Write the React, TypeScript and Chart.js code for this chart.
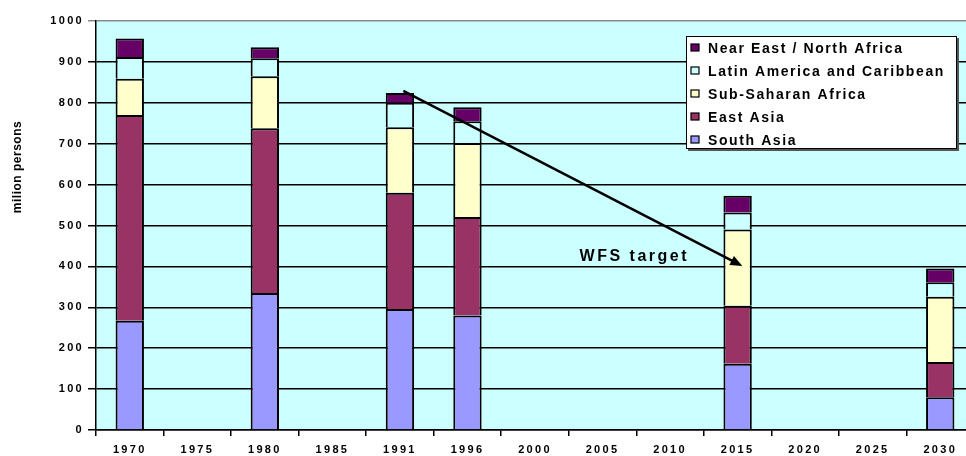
import React, { useEffect, useRef } from "react";
import { Chart, registerables } from "chart.js";

Chart.register(...registerables);

const years = ["1970", "1975", "1980", "1985", "1991", "1996", "2000", "2005", "2010", "2015", "2020", "2025", "2030"];
const southAsia = [267, null, 335, null, 296, 280, null, null, null, 162, null, null, 80];
const eastAsia = [503, null, 403, null, 284, 241, null, null, null, 142, null, null, 86];
const subSaharanAfrica = [89, null, 127, null, 160, 181, null, null, null, 186, null, null, 160];
const latinAmerica = [53, null, 44, null, 60, 53, null, null, null, 42, null, null, 35];
const nearEast = [45, null, 27, null, 24, 34, null, null, null, 41, null, null, 34];
const yTicks = [0, 100, 200, 300, 400, 500, 600, 700, 800, 900, 1000];
const arrowFrom = { x: 4.05, y: 829 };
const arrowTo = { x: 9.07, y: 401 };
const annotationText = "WFS target";
const annotationPos = { x: 7.47, y: 425 };
const yTitle = "milion persons";

const FONT = '"Liberation Sans", Arial, sans-serif';

const bgPlugin = {
  id: "bgPlugin",
  beforeDraw(chart: any) {
    const { ctx, chartArea, width, height } = chart;
    ctx.save();
    ctx.fillStyle = "#ffffff";
    ctx.fillRect(0, 0, width, height);
    ctx.fillStyle = "#CCFFFF";
    ctx.fillRect(chartArea.left, chartArea.top, chartArea.right - chartArea.left, chartArea.bottom - chartArea.top);
    ctx.restore();
    ctx.letterSpacing = "2.3px";
  },
};

const overlayPlugin = {
  id: "overlayPlugin",
  afterDatasetsDraw(chart: any) {
    const { ctx } = chart;
    const xs = chart.scales.x;
    const ys = chart.scales.y;
    const x1 = xs.getPixelForValue(arrowFrom.x);
    const y1 = ys.getPixelForValue(arrowFrom.y);
    const x2 = xs.getPixelForValue(arrowTo.x);
    const y2 = ys.getPixelForValue(arrowTo.y);
    const ang = Math.atan2(y2 - y1, x2 - x1);
    const headLen = 12;
    const headW = 5;
    ctx.save();
    ctx.strokeStyle = "#000";
    ctx.fillStyle = "#000";
    ctx.lineWidth = 2.5;
    ctx.beginPath();
    ctx.moveTo(x1, y1);
    ctx.lineTo(x2 - Math.cos(ang) * headLen * 0.8, y2 - Math.sin(ang) * headLen * 0.8);
    ctx.stroke();
    ctx.beginPath();
    ctx.moveTo(x2, y2);
    ctx.lineTo(x2 - Math.cos(ang) * headLen - Math.sin(ang) * headW, y2 - Math.sin(ang) * headLen + Math.cos(ang) * headW);
    ctx.lineTo(x2 - Math.cos(ang) * headLen + Math.sin(ang) * headW, y2 - Math.sin(ang) * headLen - Math.cos(ang) * headW);
    ctx.closePath();
    ctx.fill();

    ctx.letterSpacing = "2.5px";
    ctx.font = `bold 16px ${FONT}`;
    ctx.textAlign = "center";
    ctx.textBaseline = "middle";
    ctx.fillStyle = "#000";
    ctx.fillText(annotationText, xs.getPixelForValue(annotationPos.x), ys.getPixelForValue(annotationPos.y));
    ctx.restore();
  },
  afterDraw(chart: any) {
    const { ctx } = chart;
    ctx.save();
    ctx.letterSpacing = "0.5px";
    ctx.font = `bold 12px ${FONT}`;
    ctx.fillStyle = "#000";
    ctx.textAlign = "center";
    ctx.textBaseline = "middle";
    ctx.translate(18, 167);
    ctx.rotate(-Math.PI / 2);
    ctx.fillText(yTitle, 0, 0);
    ctx.restore();

    const bx = 686, by = 36, bw = 271, bh = 113;
    ctx.save();
    ctx.fillStyle = "#555";
    ctx.fillRect(bx + 2, by + 2, bw, bh);
    ctx.fillStyle = "#fff";
    ctx.fillRect(bx, by, bw, bh);
    ctx.strokeStyle = "#000";
    ctx.lineWidth = 1;
    ctx.strokeRect(bx + 0.5, by + 0.5, bw - 1, bh - 1);
    const items = [...chart.data.datasets].reverse();
    ctx.font = `bold 14px ${FONT}`;
    ctx.letterSpacing = "1.6px";
    ctx.textAlign = "left";
    ctx.textBaseline = "middle";
    items.forEach((ds: any, i: number) => {
      const cy = 48 + i * 23;
      ctx.fillStyle = ds.backgroundColor;
      ctx.fillRect(691, cy - 4, 8, 7);
      ctx.strokeStyle = "#000";
      ctx.lineWidth = 1.2;
      ctx.strokeRect(691, cy - 4, 8, 7);
      ctx.fillStyle = "#000";
      ctx.fillText(ds.label, 708, cy + 1);
    });
    ctx.restore();
  },
};

export default function App() {
  const ref = useRef<HTMLCanvasElement>(null);
  useEffect(() => {
    if (!ref.current) return;
    const mk = (label: string, data: (number | null)[], color: string) => ({
      label,
      data,
      backgroundColor: color,
      borderColor: "#000",
      borderWidth: 2,
      barPercentage: 0.42,
      categoryPercentage: 1,
    });
    const chart = new Chart(ref.current, {
      type: "bar",
      data: {
        labels: years,
        datasets: [
          mk("South Asia", southAsia, "#9999FF"),
          mk("East Asia", eastAsia, "#993366"),
          mk("Sub-Saharan Africa", subSaharanAfrica, "#FFFFCC"),
          mk("Latin America and Caribbean", latinAmerica, "#CCFFFF"),
          mk("Near East / North Africa", nearEast, "#660066"),
        ],
      },
      options: {
        animation: false,
        responsive: false,
        maintainAspectRatio: false,
        layout: { padding: { top: 21, right: 0, left: 0, bottom: 0 } },
        plugins: { legend: { display: false }, tooltip: { enabled: false } },
        scales: {
          x: {
            stacked: true,
            offset: true,
            grid: { offset: true, drawOnChartArea: false, drawTicks: true, tickLength: 6, color: "#000", lineWidth: 1.5 },
            border: { color: "#000", width: 1.5 },
            ticks: { color: "#000", font: { family: FONT, size: 11, weight: "bold" }, padding: 7, maxRotation: 0, autoSkip: false },
            afterFit: (s: any) => { s.height = 26; },
          },
          y: {
            stacked: true,
            min: 0,
            max: 1000,
            afterBuildTicks: (s: any) => { s.ticks = yTicks.map((v) => ({ value: v })); },
            grid: {
              color: (c: any) => (c.tick && c.tick.value === 1000 ? "#8a8a8a" : "#000"),
              lineWidth: 1.5,
              drawTicks: true,
              tickLength: 8,
            },
            border: { color: "#000", width: 1.5 },
            ticks: {
              color: "#000",
              font: { family: FONT, size: 11, weight: "bold" },
              padding: 4,
              callback: (v: any) => String(v),
            },
            afterFit: (s: any) => { s.width = 96; },
          },
        },
      },
      plugins: [bgPlugin, overlayPlugin],
    });
    return () => chart.destroy();
  }, []);
  return (
    <div style={{ position: "fixed", left: 0, top: 0, width: 966, height: 456, overflow: "hidden", background: "#fff" }}>
      <div style={{ width: 974, height: 456 }}>
        <canvas ref={ref} width={974} height={456} style={{ width: 974, height: 456, display: "block" }} />
      </div>
    </div>
  );
}
